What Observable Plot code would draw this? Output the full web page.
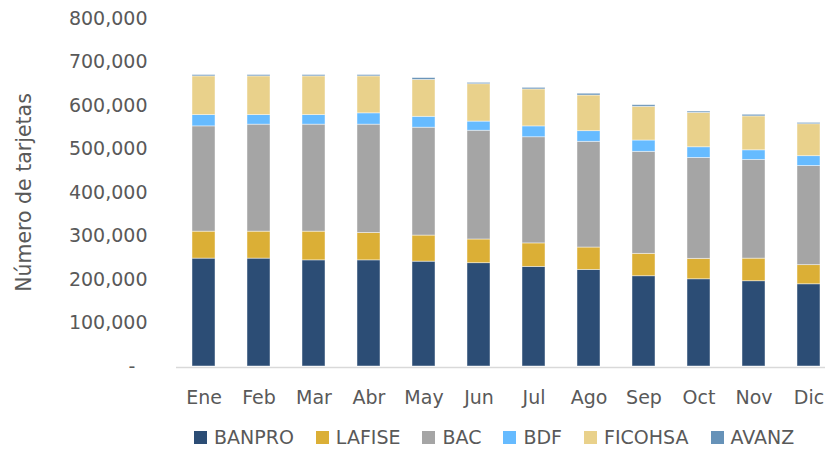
<!DOCTYPE html>
<html>
<head>
<meta charset="utf-8">
<script src="https://cdn.jsdelivr.net/npm/d3@7"></script>
<script src="https://cdn.jsdelivr.net/npm/@observablehq/plot@0.6"></script>
<style>
  html, body { margin: 0; padding: 0; overflow: hidden; background: #fff; }
  #chart svg { max-width: none !important; display: block; }
  .legend { display: flex; align-items: center; height: 30px; margin-top: 4px; padding-left: 194px;
            font-family: "DejaVu Sans", sans-serif; font-size: 19px; color: #595959; white-space: nowrap; }
  .legend .item { display: flex; align-items: center; margin-right: 22px; }
  .legend .sw { width: 13px; height: 13px; margin-right: 7px; }
</style>
</head>
<body>
<div id="chart"></div>
<script>
const months = ["Ene","Feb","Mar","Abr","May","Jun","Jul","Ago","Sep","Oct","Nov","Dic"];
const banks = ["BANPRO","LAFISE","BAC","BDF","FICOHSA","AVANZ"];
const colors = ["#2C4D75","#DBAF36","#A5A5A5","#66BBFF","#E9D18B","#6692B8"];

const banpro  = [248000, 248000, 244000, 244000, 241000, 237500, 229000, 222000, 207500, 200500, 196000, 189000];
const lafise  = [62000, 62000, 66000, 63000, 60000, 54500, 54000, 51500, 51500, 47000, 52000, 44000];
const bac     = [242000, 246000, 246000, 249000, 248000, 250000, 244000, 243000, 234500, 232000, 227000, 228000];
const bdf     = [26000, 22000, 22000, 26000, 25000, 21000, 25000, 24500, 26000, 24500, 22000, 22500];
const ficohsa = [89000, 89000, 89000, 85000, 85000, 86000, 85000, 82000, 77500, 79000, 78000, 73500];
const avanz   = [3000, 3000, 3000, 3000, 4000, 3000, 3500, 4000, 3700, 3000, 3600, 3000];

const yTicks = [0, 100000, 200000, 300000, 400000, 500000, 600000, 700000, 800000];
const yTitle = "Número de tarjetas";

const series = [banpro, lafise, bac, bdf, ficohsa, avanz];
const rows = [];
banks.forEach((b, i) => months.forEach((m, j) => rows.push({bank: b, month: m, value: series[i][j]})));

const fmt = d3.format(",");
const chart = Plot.plot({
  width: 837,
  height: 418,
  marginLeft: 176,
  marginRight: 0,
  marginTop: 18,
  marginBottom: 52,
  style: {fontFamily: "DejaVu Sans, sans-serif", fontSize: "19px", color: "#595959", background: "white"},
  x: {domain: months, paddingInner: 0.58, paddingOuter: 0.29, label: null, tickSize: 0, tickPadding: 24},
  y: {domain: [0, 800000], ticks: yTicks, label: null, tickSize: 0, tickPadding: 29,
      tickFormat: d => d === 0 ? "-  " : fmt(d)},
  color: {domain: banks, range: colors},
  marks: [
    Plot.ruleY([0], {stroke: "#D9D9D9", strokeWidth: 1.5, dy: 1}),
    Plot.barY(rows, {x: "month", y: "value", fill: "bank", z: "bank",
      stroke: "#ffffff", strokeOpacity: 0.55, strokeWidth: 0.8}),
    Plot.text([yTitle], {text: d => d, frameAnchor: "left", textAnchor: "middle", rotate: -90, dx: -152,
      fontSize: 20.5, fill: "#595959"})
  ]
});
document.getElementById("chart").appendChild(chart);

const legend = document.createElement("div");
legend.className = "legend";
banks.forEach((b, i) => {
  const it = document.createElement("div");
  it.className = "item";
  const sw = document.createElement("span");
  sw.className = "sw";
  sw.style.background = colors[i];
  const t = document.createElement("span");
  t.textContent = b;
  it.appendChild(sw); it.appendChild(t);
  legend.appendChild(it);
});
document.body.appendChild(legend);
</script>
</body>
</html>
